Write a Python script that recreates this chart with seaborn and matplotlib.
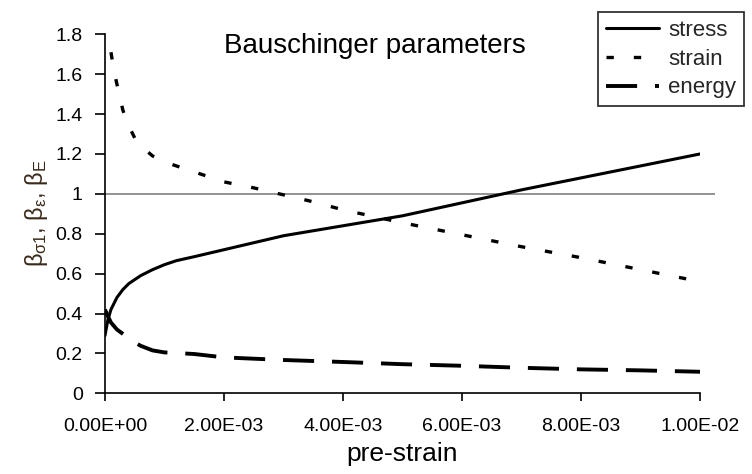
import numpy as np
import pandas as pd
import matplotlib
matplotlib.use("Agg")
import matplotlib.pyplot as plt
import seaborn as sns

# ---- data ----
stress_x = [0, 0.00005, 0.0001, 0.0002, 0.0003, 0.0004, 0.0006, 0.0008, 0.001, 0.0012, 0.0015,
            0.002, 0.0025, 0.003, 0.004, 0.005, 0.006, 0.007, 0.008, 0.009, 0.01]
stress_y = [0.29, 0.37, 0.42, 0.48, 0.52, 0.55, 0.59, 0.62, 0.645, 0.665, 0.685,
            0.72, 0.755, 0.79, 0.84, 0.89, 0.955, 1.02, 1.08, 1.14, 1.20]

strain_x = [0.0001, 0.00015, 0.0002, 0.0003, 0.0004, 0.0005, 0.0006, 0.0008, 0.001, 0.0012, 0.0015,
            0.002, 0.0025, 0.003, 0.0035, 0.004, 0.005, 0.006, 0.007, 0.008, 0.009, 0.01]
strain_y = [1.71, 1.62, 1.55, 1.42, 1.34, 1.28, 1.24, 1.19, 1.16, 1.14, 1.11,
            1.06, 1.03, 0.995, 0.96, 0.92, 0.855, 0.795, 0.735, 0.68, 0.62, 0.56]

energy_x = [0, 0.00005, 0.0001, 0.0002, 0.0003, 0.0004, 0.0005, 0.0006, 0.0008, 0.001, 0.0015,
            0.002, 0.003, 0.004, 0.005, 0.006, 0.007, 0.008, 0.009, 0.01]
energy_y = [0.42, 0.385, 0.355, 0.32, 0.298, 0.275, 0.255, 0.238, 0.215, 0.205, 0.197,
            0.18, 0.167, 0.157, 0.146, 0.138, 0.128, 0.12, 0.115, 0.108]

series_names = ["stress", "strain", "energy"]
xtick_values = [0, 0.002, 0.004, 0.006, 0.008, 0.01]
xtick_labels = ["0.00E+00", "2.00E-03", "4.00E-03", "6.00E-03", "8.00E-03", "1.00E-02"]
ytick_values = [0, 0.2, 0.4, 0.6, 0.8, 1.0, 1.2, 1.4, 1.6, 1.8]
ytick_labels = ["0", "0.2", "0.4", "0.6", "0.8", "1", "1.2", "1.4", "1.6", "1.8"]
reference_level = 1.0

title_text = "Bauschinger parameters"
xlabel_text = "pre-strain"
ylabel_text = r"$\beta_{\sigma 1}$, $\beta_{\varepsilon}$, $\beta_{E}$"

# ---- styling ----
sns.set_theme(style="ticks")
plt.rcParams["font.family"] = ["Liberation Sans", "DejaVu Sans"]
plt.rcParams["mathtext.fontset"] = "custom"
plt.rcParams["mathtext.rm"] = "Liberation Sans"
plt.rcParams["mathtext.it"] = "Liberation Sans"

fig = plt.figure(figsize=(7.52, 4.74), dpi=100)
ax = fig.add_axes([105 / 752, (474 - 393.3) / 474, (700 - 105) / 752, (393.3 - 34.3) / 474])

df_stress = pd.DataFrame({"x": stress_x, "y": stress_y})
df_strain = pd.DataFrame({"x": strain_x, "y": strain_y})
df_energy = pd.DataFrame({"x": energy_x, "y": energy_y})

ax.hlines(reference_level, 0, 0.01025, colors="#8a8a8a", linewidth=1.3, clip_on=False, zorder=1)

sns.lineplot(data=df_stress, x="x", y="y", ax=ax, color="black", linewidth=2.2,
             sort=False, estimator=None, label=series_names[0], zorder=3)
sns.lineplot(data=df_strain, x="x", y="y", ax=ax, color="black", linewidth=2.4,
             linestyle=(0, (2.2, 6.0)), sort=False, estimator=None, label=series_names[1], zorder=3)
sns.lineplot(data=df_energy, x="x", y="y", ax=ax, color="black", linewidth=2.8,
             linestyle=(0, (8.0, 4.6)), sort=False, estimator=None, label=series_names[2], zorder=3)

ax.set_xlim(0, 0.01)
ax.set_ylim(0, 1.8)
ax.set_xticks(xtick_values)
ax.set_xticklabels(xtick_labels)
ax.set_yticks(ytick_values)
ax.set_yticklabels(ytick_labels)
ax.tick_params(axis="both", direction="out", colors="black", labelsize=14, width=1.2)
ax.tick_params(axis="y", length=7, pad=9)
ax.tick_params(axis="x", length=6, pad=12)
for s in ["top", "right"]:
    ax.spines[s].set_visible(False)
for s in ["left", "bottom"]:
    ax.spines[s].set_color("black")
    ax.spines[s].set_linewidth(1.2)

ax.set_xlabel(xlabel_text, fontsize=19, color="black", labelpad=5)
ax.set_ylabel(ylabel_text, fontsize=17, color="#3a2a1a", labelpad=4)

ax.text(0.00454, 1.74, title_text, fontsize=20, ha="center", va="center", color="black")

handles, labels = ax.get_legend_handles_labels()
ax.get_legend().remove()
leg = fig.legend(handles, labels, loc="upper left", bbox_to_anchor=(598 / 752, 1 - 12 / 474),
                 fontsize=16, frameon=True, fancybox=False, edgecolor="black",
                 handlelength=2.4, handletextpad=0.4, borderpad=0.35, labelspacing=0.35,
                 borderaxespad=0)
leg.get_frame().set_linewidth(1.3)

fig.savefig("out.png", dpi=100, facecolor="white")
